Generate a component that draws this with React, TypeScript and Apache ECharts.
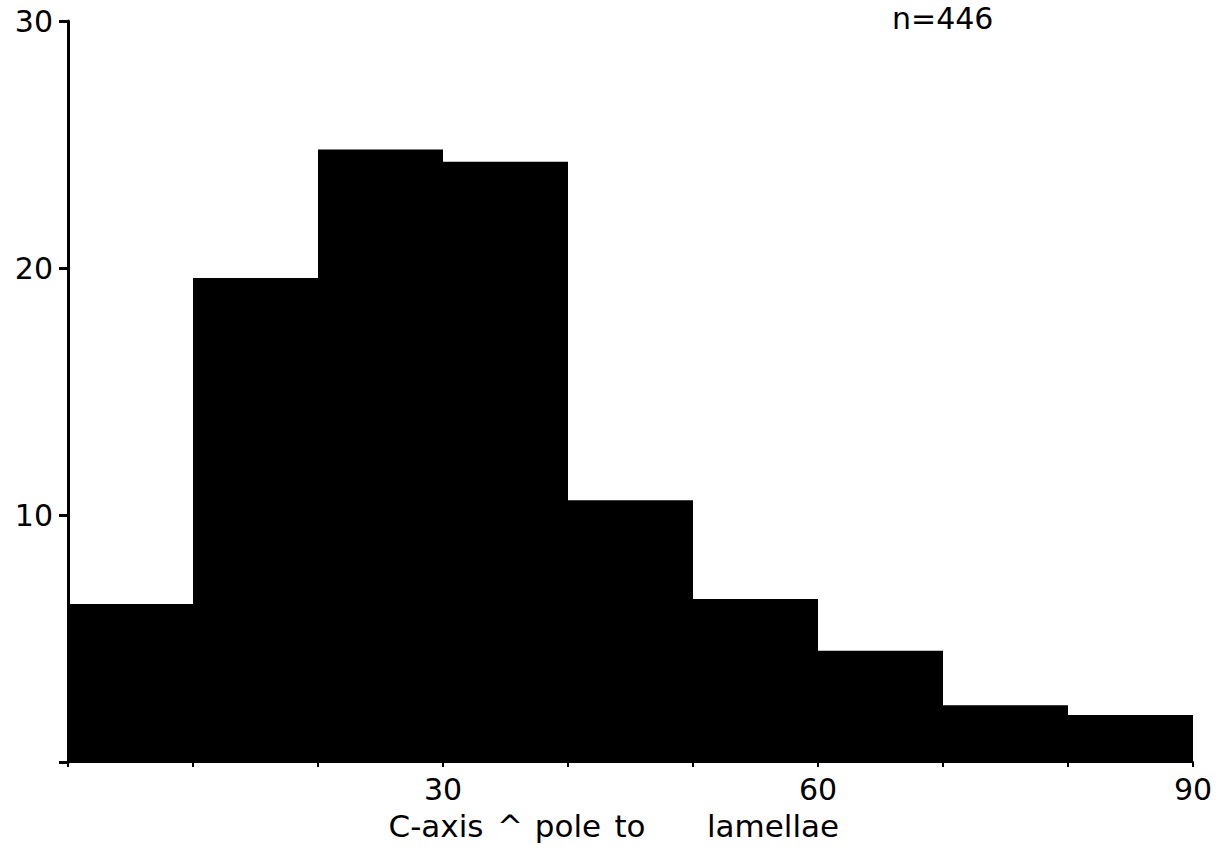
import React, { useEffect, useRef } from "react";
import * as echarts from "echarts";

const binStarts = [0, 10, 20, 30, 40, 50, 60, 70, 80];
const binEnds = [10, 20, 30, 40, 50, 60, 70, 80, 90];
const percentages = [6.4, 19.6, 24.8, 24.3, 10.6, 6.6, 4.5, 2.3, 1.9];
const xTickLabels = [30, 60, 90];
const yTickLabels = [10, 20, 30];
const xTitleWords = ["C-axis", "^", "pole", "to", "lamellae"];
const sampleLabel = "n=446";

const FONT = "'DejaVu Sans', Lato, sans-serif";

export default function App() {
  const ref = useRef<HTMLDivElement>(null);
  useEffect(() => {
    document.body.style.margin = "0";
    const chart = echarts.init(ref.current as HTMLDivElement, null, { renderer: "svg" });
    const data = binStarts.map((s, i) => [s, binEnds[i], percentages[i]]);
    const wordCenters = [436, 510, 568, 630, 773];
    chart.setOption({
      animation: false,
      backgroundColor: "#ffffff",
      grid: { left: 68, right: 38, top: 21, bottom: 92, containLabel: false },
      xAxis: {
        type: "value",
        min: 0,
        max: 90,
        interval: 10,
        axisLine: { show: true, lineStyle: { color: "#000", width: 2 } },
        axisTick: { show: true, length: 5, lineStyle: { color: "#000", width: 2 } },
        splitLine: { show: false },
        axisLabel: {
          margin: 12,
          color: "#000",
          fontSize: 30,
          fontFamily: FONT,
          formatter: (v: number) => (xTickLabels.includes(v) ? String(v) : ""),
        },
      },
      yAxis: {
        type: "value",
        min: 0,
        max: 30,
        interval: 10,
        axisLine: { show: true, lineStyle: { color: "#000", width: 3 } },
        axisTick: { show: true, length: 9, lineStyle: { color: "#000", width: 3 } },
        splitLine: { show: false },
        axisLabel: {
          margin: 15,
          color: "#000",
          fontSize: 30,
          fontFamily: FONT,
          formatter: (v: number) => (yTickLabels.includes(v) ? String(v) : ""),
        },
      },
      series: [
        {
          type: "custom",
          data,
          encode: { x: [0, 1], y: 2 },
          renderItem: (params: any, api: any) => {
            const x0 = api.value(0);
            const x1 = api.value(1);
            const v = api.value(2);
            const p0 = api.coord([x0, v]);
            const p1 = api.coord([x1, 0]);
            return {
              type: "rect",
              shape: { x: p0[0], y: p0[1], width: p1[0] - p0[0], height: p1[1] - p0[1] },
              style: { fill: "#000" },
            };
          },
        },
      ],
      graphic: [
        ...xTitleWords.map((w, i) => ({
          type: "text",
          x: wordCenters[i],
          y: 826,
          style: {
            text: w,
            align: "center",
            verticalAlign: "middle",
            fontSize: 31,
            fontFamily: FONT,
            fill: "#000",
          },
        })),
        {
          type: "text",
          x: 892,
          y: 18,
          style: {
            text: sampleLabel,
            align: "left",
            verticalAlign: "middle",
            fontSize: 30,
            lineHeight: 30,
            fontFamily: FONT,
            fill: "#000",
          },
        },
      ],
    });
    return () => chart.dispose();
  }, []);
  return (
    <div
      ref={ref}
      style={{ position: "absolute", left: 0, top: 0, width: 1231, height: 854 }}
    />
  );
}
